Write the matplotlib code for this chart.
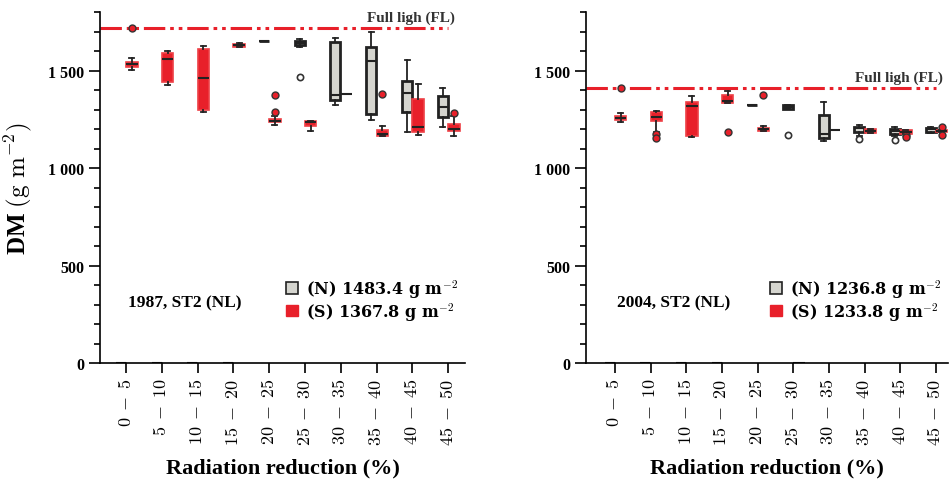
import numpy as np
import matplotlib
matplotlib.use('Agg')
import matplotlib.pyplot as plt
from matplotlib.ticker import MultipleLocator, FixedLocator
from matplotlib.patches import Patch

plt.rcParams.update({
    'font.family': 'Liberation Serif',
    'font.weight': 'bold',
    'mathtext.fontset': 'cm',
    'axes.linewidth': 1.2,
})

categories = ['0 - 5', '5 - 10', '10 - 15', '15 - 20', '20 - 25',
              '25 - 30', '30 - 35', '35 - 40', '40 - 45', '45 - 50']

# box stats per category: whisker low, q1, median, q3, whisker high
n87_whislo = [0, 0, 0, 0, 1654, 1624, 1325, 1249, 1188, 1213]
n87_q1     = [0, 0, 0, 0, 1654, 1634, 1350, 1278, 1287, 1262]
n87_med    = [0, 0, 0, 0, 1654, 1644, 1376, 1552, 1386, 1316]
n87_q3     = [0, 0, 0, 0, 1654, 1653, 1646, 1624, 1446, 1369]
n87_whishi = [0, 0, 0, 0, 1654, 1661, 1667, 1697, 1555, 1410]
n87_fliers = [[], [], [], [], [], [1470], [], [], [], []]

s87_whislo = [1506, 1427, 1290, 1620, 1224, 1193, 1383, 1167, 1171, 1164]
s87_q1     = [1518, 1444, 1299, 1623, 1236, 1215, 1383, 1167, 1185, 1190]
s87_med    = [1533, 1562, 1461, 1631, 1244, 1237, 1383, 1178, 1212, 1202]
s87_q3     = [1543, 1590, 1613, 1636, 1252, 1242, 1383, 1196, 1355, 1226]
s87_whishi = [1564, 1601, 1627, 1641, 1270, 1242, 1383, 1217, 1434, 1267]
s87_fliers = [[1720], [], [], [], [1376, 1290], [], [], [1381], [], [1285]]

n04_whislo = [0, 0, 0, 0, 1326, 1303, 1142, 1165, 1165, 1180]
n04_q1     = [0, 0, 0, 0, 1326, 1303, 1154, 1185, 1176, 1188]
n04_med    = [0, 0, 0, 0, 1326, 1314, 1176, 1205, 1193, 1200]
n04_q3     = [0, 0, 0, 0, 1326, 1325, 1273, 1213, 1201, 1206]
n04_whishi = [0, 0, 0, 0, 1326, 1325, 1338, 1220, 1210, 1210]
n04_fliers = [[], [], [], [], [], [1172], [], [1150], [1147], []]

s04_whislo = [1239, 1185, 1159, 1335, 1193, 0, 1198, 1181, 1176, 1185]
s04_q1     = [1247, 1241, 1167, 1335, 1193, 0, 1198, 1181, 1176, 1185]
s04_med    = [1258, 1265, 1321, 1347, 1201, 0, 1198, 1193, 1186, 1192]
s04_q3     = [1267, 1289, 1338, 1377, 1208, 0, 1198, 1201, 1196, 1198]
s04_whishi = [1282, 1296, 1371, 1396, 1215, 0, 1198, 1201, 1196, 1198]
s04_fliers = [[1413], [1176, 1154], [], [1188], [1376], [], [], [], [1170, 1159], [1213, 1170]]

full_light = [1720, 1413]
means_n = [1483.4, 1236.8]
means_s = [1367.8, 1233.8]
site_labels = ['1987, ST2 (NL)', '2004, ST2 (NL)']

GREY = '#d5d5cf'
RED = '#e8202a'


def make_stats(wlo, q1, med, q3, whi, fl):
    return [dict(whislo=a, q1=b, med=c, q3=d, whishi=e, fliers=f)
            for a, b, c, d, e, f in zip(wlo, q1, med, q3, whi, fl)]


def draw(ax, n_stats, s_stats, fl, mean_n, mean_s, site, xlim, fl_text_y):
    pos = np.arange(1, len(categories) + 1)
    ax.bxp(n_stats, positions=pos - 0.15, widths=0.28, patch_artist=True,
           showfliers=True, capwidths=0.14,
           boxprops=dict(facecolor=GREY, edgecolor='#222222', linewidth=2.0),
           medianprops=dict(color='#222222', linewidth=1.5),
           whiskerprops=dict(color='#222222', linewidth=1.3),
           capprops=dict(color='#222222', linewidth=1.3),
           flierprops=dict(marker='o', markerfacecolor='white',
                           markeredgecolor='#333333', markersize=4.5,
                           markeredgewidth=1.2))
    ax.bxp(s_stats, positions=pos + 0.16, widths=0.32, patch_artist=True,
           showfliers=True, capwidths=0.14,
           boxprops=dict(facecolor=RED, edgecolor='#ee4046', linewidth=1.2),
           medianprops=dict(color='#222222', linewidth=1.5),
           whiskerprops=dict(color='#222222', linewidth=1.3),
           capprops=dict(color='#222222', linewidth=1.3),
           flierprops=dict(marker='o', markerfacecolor=RED,
                           markeredgecolor='#333333', markersize=5,
                           markeredgewidth=1.0))

    ax.hlines(fl, xlim[0], 10.0, color=RED, linewidth=2.2,
              linestyles=[(0, (7.0, 1.6, 1.2, 1.6, 1.2, 1.6))], zorder=1)
    ax.text(10.2, fl_text_y, 'Full ligh (FL)', ha='right', va='center',
            fontsize=11, color='#333333', fontweight='bold')
    ax.text(1.05, 314, site, ha='left', va='center', fontsize=12.5,
            fontweight='bold')

    handles = [Patch(facecolor=GREY, edgecolor='#222222', linewidth=1.2),
               Patch(facecolor=RED, edgecolor=RED)]
    labels = [r'(N) %.1f g m$^{-2}$' % mean_n,
              r'(S) %.1f g m$^{-2}$' % mean_s]
    leg = ax.legend(handles, labels, loc='lower right',
                    bbox_to_anchor=(1.0, 0.098), frameon=False,
                    prop=dict(family='DejaVu Serif', weight='bold', size=11.5),
                    handlelength=0.75, handleheight=0.75,
                    handletextpad=0.5, labelspacing=0.0, borderaxespad=0)
    for t in leg.get_texts():
        t.set_math_fontfamily('cm')

    ax.set_xlim(*xlim)
    ax.set_ylim(0, 1800)
    ax.set_xticks(pos)
    ax.set_xticklabels([r'$%s$' % c.replace(' - ', r'\;-\;') for c in categories],
                       rotation=90, fontsize=13)
    ax.yaxis.set_major_locator(FixedLocator([0, 500, 1000, 1500]))
    ax.set_yticklabels(['0', '500', '1 000', '1 500'], fontsize=11.5,
                       fontweight='bold')
    ax.yaxis.set_minor_locator(MultipleLocator(100))
    ax.tick_params(axis='y', which='major', length=8, width=1.2)
    ax.tick_params(axis='y', which='minor', length=4, width=1.2)
    ax.tick_params(axis='x', length=7, width=1.2)
    ax.spines['top'].set_visible(False)
    ax.spines['right'].set_visible(False)
    ax.set_xlabel('Radiation reduction (%)', fontsize=16, fontweight='bold',
                  labelpad=9)


fig = plt.figure(figsize=(9.5, 4.81), dpi=100)
ax1 = fig.add_axes([100 / 950, 1 - 364.3 / 481, 365 / 950, 351 / 481])
ax2 = fig.add_axes([586 / 950, 1 - 364.3 / 481, 362 / 950, 351 / 481])

draw(ax1,
     make_stats(n87_whislo, n87_q1, n87_med, n87_q3, n87_whishi, n87_fliers),
     make_stats(s87_whislo, s87_q1, s87_med, s87_q3, s87_whishi, s87_fliers),
     full_light[0], means_n[0], means_s[0], site_labels[0], (0.27, 10.47), 1776)
draw(ax2,
     make_stats(n04_whislo, n04_q1, n04_med, n04_q3, n04_whishi, n04_fliers),
     make_stats(s04_whislo, s04_q1, s04_med, s04_q3, s04_whishi, s04_fliers),
     full_light[1], means_n[1], means_s[1], site_labels[1], (0.19, 10.34), 1468)

ax1.set_ylabel(r'DM $(\mathrm{g\ m}^{-2})$', fontsize=18, fontweight='bold')
ax1.yaxis.set_label_coords(-0.18, 0.5)

fig.savefig('out.png', dpi=100)
